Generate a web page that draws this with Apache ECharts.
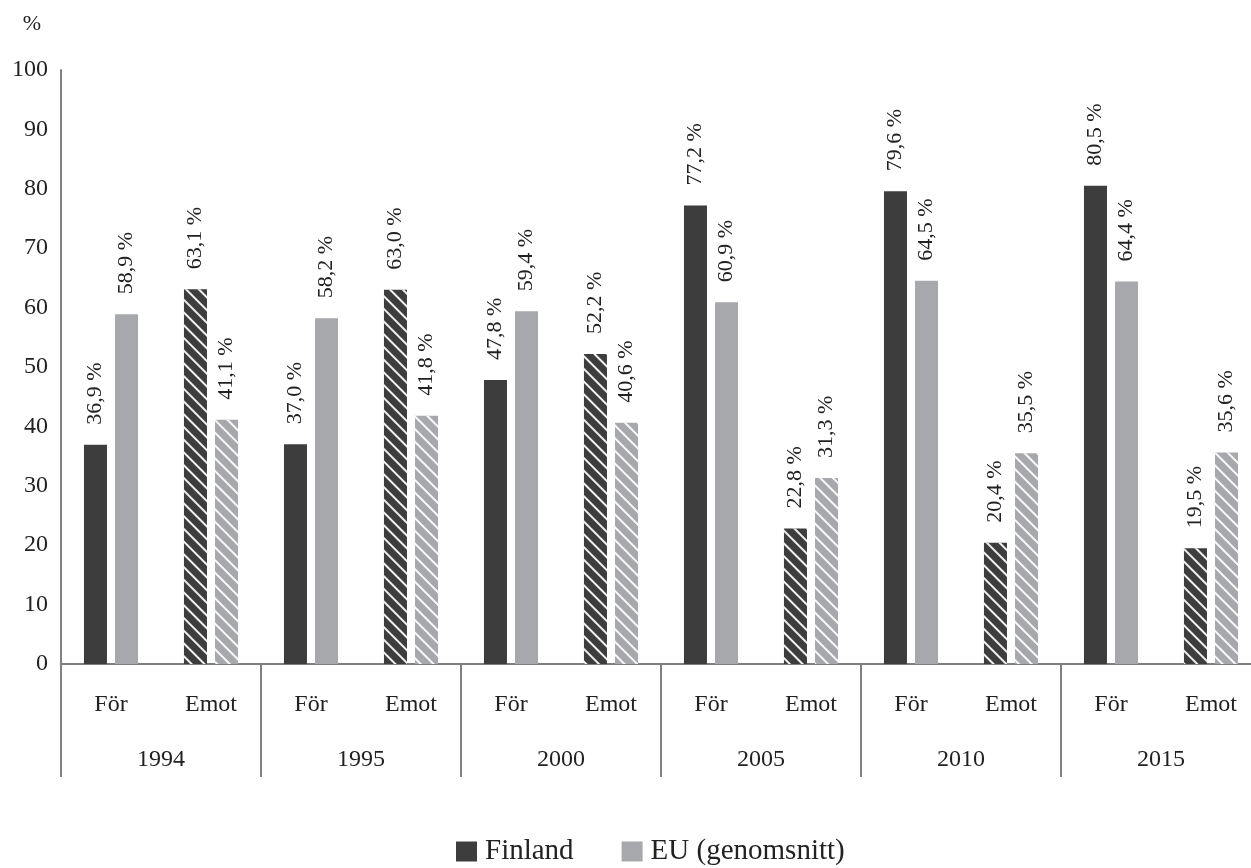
<!DOCTYPE html>
<html><head><meta charset="utf-8">
<script src="https://cdn.jsdelivr.net/npm/echarts@6/dist/echarts.min.js"></script>
<style>html,body{margin:0;padding:0;background:#fff;overflow:hidden}#c{width:1270px;height:868px}</style>
</head><body><div id="c"></div>
<script>
const years = ['1994','1995','2000','2005','2010','2015'];
const positions = ['För','Emot'];
const categories = ['För','Emot','För','Emot','För','Emot','För','Emot','För','Emot','För','Emot'];
const finland = [36.9, 63.1, 37.0, 63.0, 47.8, 52.2, 77.2, 22.8, 79.6, 20.4, 80.5, 19.5];
const eu = [58.9, 41.1, 58.2, 41.8, 59.4, 40.6, 60.9, 31.3, 64.5, 35.5, 64.4, 35.6];
const yTicks = [0,10,20,30,40,50,60,70,80,90,100];

const FONT = '"Liberation Serif", "DejaVu Serif", serif';
const DARK = '#3d3d3d', LIGHT = '#a7a8ab', AX = '#808080';
const hatch = {symbol:'rect', color:'rgba(255,255,255,0.92)', dashArrayX:[1,0], dashArrayY:[1.6,6.2], rotation:Math.PI/4};

function mk(arr){
  return arr.map((v,i)=> categories[i]==='Emot' ? {value:v, itemStyle:{decal:hatch}} : {value:v});
}
const lbl = {show:true, position:'top', rotate:90, distance:20, align:'left', verticalAlign:'middle',
  fontFamily:FONT, fontSize:22, color:'#222', formatter:p=>p.value.toFixed(1).replace('.',',')+' %'};

const chart = echarts.init(document.getElementById('c'), null, {renderer:'canvas'});
chart.setOption({
  animation:false,
  aria:{enabled:false},
  grid:{left:61, top:70, width:1200, height:594, containLabel:false},
  legend:{top:837, left:456, padding:0, itemWidth:21, itemHeight:20, itemGap:48, icon:'rect',
    textStyle:{fontFamily:FONT, fontSize:29, color:'#222', padding:[0,0,0,3]},
    data:[{name:'Finland'},{name:'EU (genomsnitt)'}]},
  xAxis:[
    {type:'category', data:categories, axisLine:{lineStyle:{color:AX, width:2}}, axisTick:{show:false},
     axisLabel:{fontFamily:FONT, fontSize:24, color:'#222', margin:29, interval:0}},
    {type:'category', data:years, position:'bottom', axisLine:{show:false},
     axisTick:{show:true, length:113, interval:0, lineStyle:{color:AX, width:2}},
     axisLabel:{fontFamily:FONT, fontSize:24, color:'#222', margin:84, interval:0}}
  ],
  yAxis:{type:'value', min:0, max:100, interval:10, name:'%', nameLocation:'end', nameGap:35,
    nameTextStyle:{fontFamily:FONT, fontSize:22, color:'#222', align:'right', padding:[0,20,0,0]},
    axisLine:{show:true, lineStyle:{color:AX, width:2}}, axisTick:{show:false}, splitLine:{show:false},
    axisLabel:{fontFamily:FONT, fontSize:24, color:'#222', margin:13,
      formatter:v=> yTicks.includes(v) ? String(v) : ''}},
  series:[
    {name:'Finland', type:'bar', data:mk(finland), barWidth:23, barGap:'35%', itemStyle:{color:DARK}, label:lbl},
    {name:'EU (genomsnitt)', type:'bar', data:mk(eu), barWidth:23, itemStyle:{color:LIGHT}, label:lbl}
  ]
});
</script></body></html>
